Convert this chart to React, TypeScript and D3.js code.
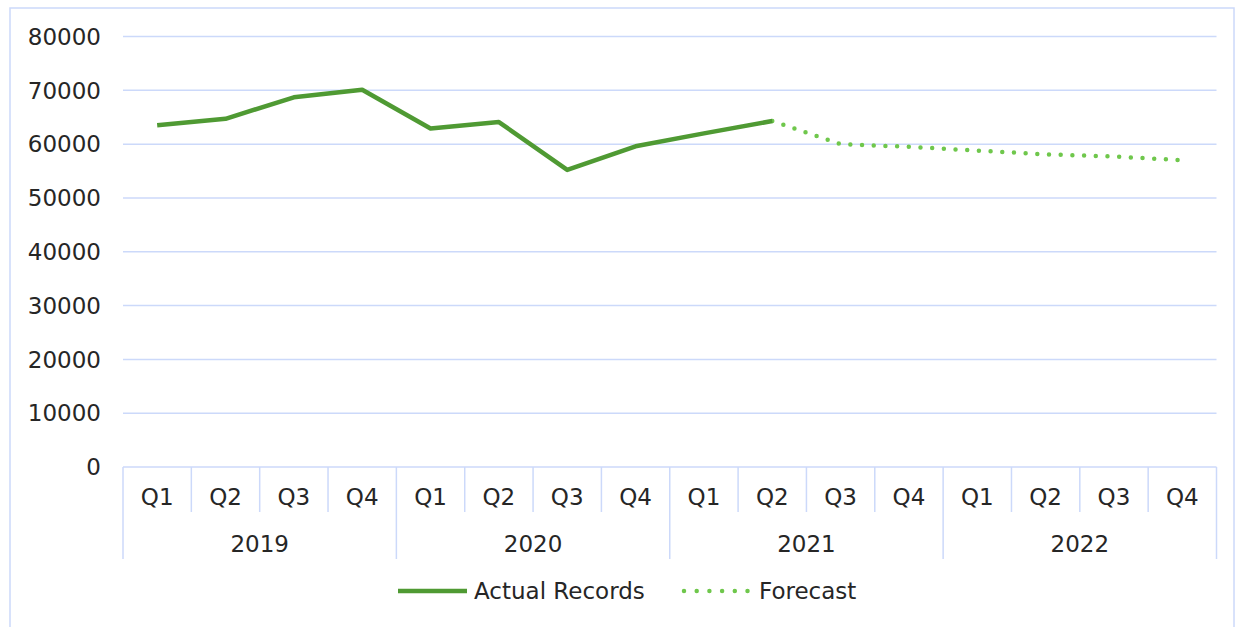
import React from "react";
import * as d3 from "d3";

const years = ["2019", "2020", "2021", "2022"];
const quarters = ["Q1", "Q2", "Q3", "Q4"];
const actualValues = [63500, 64700, 68700, 70100, 62900, 64100, 55200, 59600, 62000, 64300];
const forecastValues = [64300, 60000, 59500, 58800, 58100, 57700, 57000];
const forecastStart = 9;
const yTicks = [0, 10000, 20000, 30000, 40000, 50000, 60000, 70000, 80000];

const W = 1238;
const H = 627;
const FONT = "'DejaVu Sans', Verdana, sans-serif";
const GRID = "#ccd9fa";
const TEXT = "#262626";
const ACTUAL = "#4f9a33";
const FORECAST = "#6fc74c";

export default function App() {
  const cats: { q: string; y: string; i: number }[] = [];
  years.forEach((y) => quarters.forEach((q) => cats.push({ q, y, i: cats.length })));

  const left = 123;
  const right = 1216.5;
  const top = 36.5;
  const bottom = 467;

  const x = d3.scaleBand<number>().domain(cats.map((c) => c.i)).range([left, right]).padding(0);
  const y = d3.scaleLinear().domain([0, 80000]).range([bottom, top]);
  const cx = (i: number) => (x(i) as number) + x.bandwidth() / 2;

  const line = d3.line<[number, number]>().x((d) => d[0]).y((d) => d[1]);
  const actualPath = line(actualValues.map((v, i) => [cx(i), y(v)]));
  const forecastPath = line(forecastValues.map((v, i) => [cx(i + forecastStart), y(v)]));

  const bw = x.bandwidth();

  return (
    <svg width={W} height={H} style={{ position: "absolute", left: 0, top: 0, background: "#fff" }}>
      <rect x={10} y={8} width={1224} height={640} fill="#fff" stroke={GRID} strokeWidth={1.5} />
      {yTicks.map((t) => (
        <g key={t}>
          <line x1={left} x2={right} y1={y(t)} y2={y(t)} stroke={GRID} strokeWidth={1.5} />
          <text x={101} y={y(t)} dy="0.36em" textAnchor="end" fontFamily={FONT} fontSize={23} fill={TEXT}>
            {t}
          </text>
        </g>
      ))}
      {d3.range(cats.length + 1).map((k) => {
        const xx = left + k * bw;
        const isYear = k % 4 === 0;
        return (
          <line key={k} x1={xx} x2={xx} y1={bottom} y2={isYear ? 559 : 512} stroke={GRID} strokeWidth={1.5} />
        );
      })}
      {cats.map((c) => (
        <text key={c.i} x={cx(c.i)} y={497} dy="0.36em" textAnchor="middle" fontFamily={FONT} fontSize={23} fill={TEXT}>
          {c.q}
        </text>
      ))}
      {years.map((yr, k) => (
        <text key={yr} x={left + (k * 4 + 2) * bw} y={544} dy="0.36em" textAnchor="middle" fontFamily={FONT} fontSize={23} fill={TEXT}>
          {yr}
        </text>
      ))}
      <path d={forecastPath || ""} fill="none" stroke={FORECAST} strokeWidth={4.5} strokeLinecap="round" strokeDasharray="0 11.7" />
      <path d={actualPath || ""} fill="none" stroke={ACTUAL} strokeWidth={4.5} strokeLinejoin="round" />
      <line x1={398} x2={467} y1={591} y2={591} stroke={ACTUAL} strokeWidth={4.5} />
      <text x={474} y={591} dy="0.36em" fontFamily={FONT} fontSize={23} fill={TEXT}>Actual Records</text>
      <line x1={684} x2={748} y1={591} y2={591} stroke={FORECAST} strokeWidth={4.5} strokeLinecap="round" strokeDasharray="0 12.7" />
      <text x={759} y={591} dy="0.36em" fontFamily={FONT} fontSize={23} fill={TEXT}>Forecast</text>
    </svg>
  );
}
